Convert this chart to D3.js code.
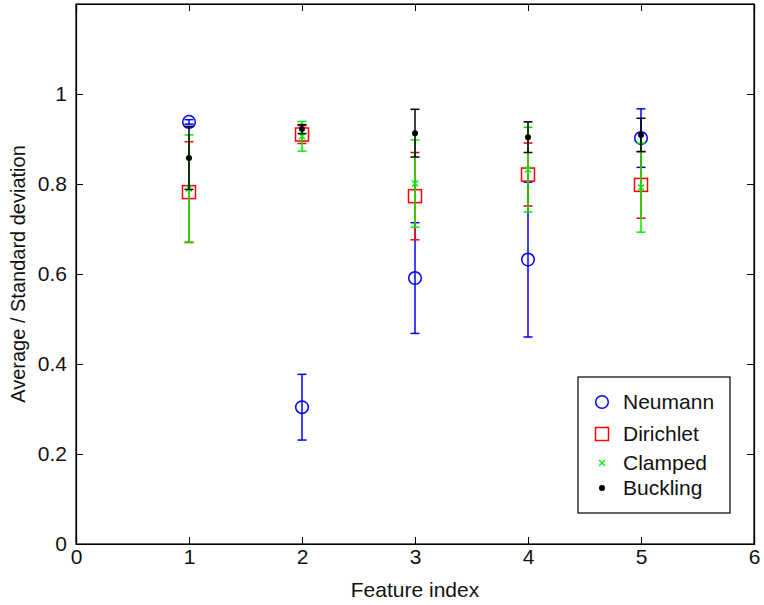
<!DOCTYPE html>
<html lang="en">
<head>
<meta charset="UTF-8">
<title>Average / Standard deviation</title>
<style>
    body { margin: 0; background: #fff; }
    text { font-family: "Liberation Sans", Arial, sans-serif; }
</style>
</head>
<body>
<svg width="764" height="605"></svg>
<script src="https://cdn.jsdelivr.net/npm/d3@7"></script>
<script>

    // data
    var features = [1, 2, 3, 4, 5];
    var neumannMean   = [0.938, 0.304, 0.591, 0.632, 0.902];
    var neumannStd    = [0.005, 0.073, 0.123, 0.172, 0.065];
    var dirichletMean = [0.782, 0.910, 0.773, 0.821, 0.798];
    var dirichletStd  = [0.112, 0.020, 0.097, 0.070, 0.074];
    var clampedMean   = [0.790, 0.906, 0.801, 0.832, 0.792];
    var clampedStd    = [0.119, 0.033, 0.097, 0.094, 0.099];
    var bucklingMean  = [0.858, 0.922, 0.913, 0.904, 0.909];
    var bucklingStd   = [0.070, 0.010, 0.053, 0.034, 0.037];
    var xTicks = [0, 1, 2, 3, 4, 5, 6];
    var yTicks = [0, 0.2, 0.4, 0.6, 0.8, 1];

    var series = [
        {name: "Neumann",   mean: neumannMean,   std: neumannStd,   color: "#0000ff", marker: "circle"},
        {name: "Dirichlet", mean: dirichletMean, std: dirichletStd, color: "#ff0000", marker: "square"},
        {name: "Clamped",   mean: clampedMean,   std: clampedStd,   color: "#00ee00", marker: "cross"},
        {name: "Buckling",  mean: bucklingMean,  std: bucklingStd,  color: "#000000", marker: "dot"}
    ];

    var svg = d3.select("svg"),
        margin = {top: 4, right: 10, bottom: 61, left: 76},
        width = +svg.attr("width") - margin.left - margin.right,
        height = +svg.attr("height") - margin.top - margin.bottom;

    var xScale = d3.scaleLinear().domain([0, 6]).range([0, width]),
        yScale = d3.scaleLinear().domain([0, 1.2]).range([height, 0]);

    var g = svg.append("g")
        .attr("transform", "translate(" + margin.left + "," + margin.top + ")");

    var fmt = function(d) { return d3.format("")(+d.toFixed(1)); };

    // axes, ticks pointing inward like matlab
    g.append("g")
        .attr("transform", "translate(0," + height + ")")
        .call(d3.axisBottom(xScale).tickValues(xTicks).tickSize(-7).tickPadding(5).tickFormat(d3.format("d")));
    g.append("g")
        .call(d3.axisLeft(yScale).tickValues(yTicks).tickSize(-7).tickPadding(9).tickFormat(fmt));
    g.append("g")
        .call(d3.axisTop(xScale).tickValues(xTicks).tickSize(-7).tickFormat(""));
    g.append("g")
        .attr("transform", "translate(" + width + ",0)")
        .call(d3.axisRight(yScale).tickValues(yTicks).tickSize(-7).tickFormat(""));

    g.selectAll(".domain").attr("stroke", "#000").attr("stroke-width", 1.2);
    g.selectAll(".tick line").attr("stroke", "#000");
    g.selectAll(".tick text")
        .attr("font-size", 21)
        .attr("fill", "#111")
        .style("font-family", "'Liberation Sans', Arial, sans-serif");

    g.append("rect")
        .attr("width", width).attr("height", height)
        .attr("fill", "none").attr("stroke", "#000").attr("stroke-width", 1.2);

    // axis labels
    svg.append("text")
        .attr("x", margin.left + width / 2)
        .attr("y", 597)
        .attr("text-anchor", "middle")
        .attr("font-size", 21)
        .attr("fill", "#111")
        .text("Feature index");

    svg.append("text")
        .attr("transform", "translate(25," + (margin.top + height / 2) + ") rotate(-90)")
        .attr("text-anchor", "middle")
        .attr("font-size", 20)
        .attr("fill", "#111")
        .text("Average / Standard deviation");

    function drawMarker(sel, type, color) {
        if (type === "circle") {
            sel.append("circle").attr("r", 6.3)
                .attr("fill", "none").attr("stroke", color).attr("stroke-width", 1.5);
        } else if (type === "square") {
            sel.append("rect").attr("x", -6.5).attr("y", -6.5).attr("width", 13).attr("height", 13)
                .attr("fill", "none").attr("stroke", color).attr("stroke-width", 1.5);
        } else if (type === "cross") {
            sel.append("path").attr("d", "M-3,-3L3,3M-3,3L3,-3")
                .attr("stroke", color).attr("stroke-width", 1.4);
        } else {
            sel.append("circle").attr("r", 3).attr("fill", color);
        }
    }

    var capW = 4.5;

    series.forEach(function(s) {
        var data = features.map(function(f, i) { return {x: f, m: s.mean[i], e: s.std[i]}; });
        var eg = g.append("g").attr("class", "series");

        var bars = eg.selectAll(".err")
            .data(data)
            .enter()
            .append("g")
            .attr("class", "err")
            .attr("stroke", s.color)
            .attr("stroke-width", 1.5);

        bars.append("line")
            .attr("x1", function(d) { return xScale(d.x); })
            .attr("x2", function(d) { return xScale(d.x); })
            .attr("y1", function(d) { return yScale(d.m + d.e); })
            .attr("y2", function(d) { return yScale(d.m - d.e); });
        bars.append("line")
            .attr("x1", function(d) { return xScale(d.x) - capW; })
            .attr("x2", function(d) { return xScale(d.x) + capW; })
            .attr("y1", function(d) { return yScale(d.m + d.e); })
            .attr("y2", function(d) { return yScale(d.m + d.e); });
        bars.append("line")
            .attr("x1", function(d) { return xScale(d.x) - capW; })
            .attr("x2", function(d) { return xScale(d.x) + capW; })
            .attr("y1", function(d) { return yScale(d.m - d.e); })
            .attr("y2", function(d) { return yScale(d.m - d.e); });

        eg.selectAll(".mk")
            .data(data)
            .enter()
            .append("g")
            .attr("class", "mk")
            .attr("transform", function(d) { return "translate(" + xScale(d.x) + "," + yScale(d.m) + ")"; })
            .each(function() { drawMarker(d3.select(this), s.marker, s.color); });
    });

    // legend
    var legend = svg.append("g").attr("transform", "translate(578,377)");
    legend.append("rect")
        .attr("width", 152).attr("height", 136)
        .attr("fill", "#fff").attr("stroke", "#000").attr("stroke-width", 1.2);

    var rowY = [25, 57, 86, 111];
    series.forEach(function(s, i) {
        var row = legend.append("g").attr("transform", "translate(0," + rowY[i] + ")");
        drawMarker(row.append("g").attr("transform", "translate(24,0)"), s.marker, s.color);
        row.append("text")
            .attr("x", 45).attr("y", 7)
            .attr("font-size", 21)
            .attr("fill", "#111")
            .text(s.name);
    });
</script>
</body>
</html>
